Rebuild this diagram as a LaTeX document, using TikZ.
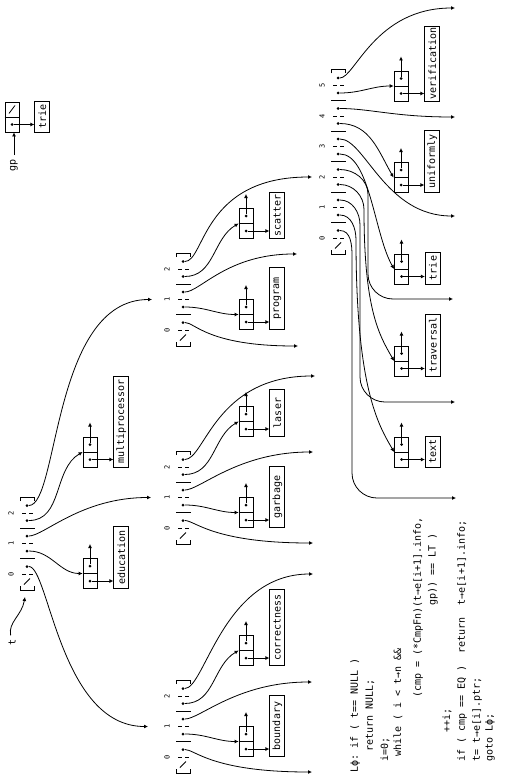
\documentclass[tikz,border=0pt]{standalone}
\usepackage{fontspec}
\setmonofont{DejaVu Sans Mono}
\usetikzlibrary{arrows.meta}

\begin{document}
\begin{tikzpicture}[x=1pt, y=-1pt, line width=0.8pt,
    every node/.style={font=\ttfamily\fontsize{10}{12}\selectfont},
    dot/.style={circle, fill, inner sep=0pt, minimum size=3pt},
    idx/.style={rotate=90, inner sep=0pt, font=\ttfamily\fontsize{7}{8}\selectfont},
    rec/.style={draw, minimum width=14pt, minimum height=30pt, inner sep=0pt},
    word/.style={draw, rotate=90, anchor=north west, inner sep=1pt,
                 minimum height=15pt, minimum width=#1},
    code/.style={rotate=90, anchor=west, inner sep=0pt},
    bar/.style={line width=1.2pt},
    ptr/.style={-{Latex[length=4pt,width=4pt]}}]
\useasboundingbox (0,0) rectangle (513,781);

% arrays: name/column/entry 0/entries
\foreach \nm/\x/\y/\n in {R/27/574/3, A/183/757/3, B/183/528/3, C/183/330/3, D/338/238/6} {
  \pgfmathtruncatemacro\last{\n-1}
  \pgfmathsetmacro\ytop{\y-30.5*\last-16}
  \draw (\x-7,\y+12) -- (\x-7,\y+16) -- (\x+7,\y+16) -- (\x+7,\y+12);
  \draw (\x-7,\ytop+4) -- (\x-7,\ytop) -- (\x+7,\ytop) -- (\x+7,\ytop+4);
  \foreach \k in {0,...,\last} {
    \pgfmathsetmacro\yk{\y-30.5*\k}
    \node[idx] (\nm-l\k) at (\x-16,\yk) {\k};
    \draw[dash pattern=on 4pt off 3pt] (\x-5,\yk) -- (\x+6,\yk);
    \node[dot] (\nm-p\k) at (\x,\yk-7.5) {};
    \ifnum\k=0
      \draw (\x-3,\yk+10.5) -- (\x+3,\yk+4.5);
    \else
      \node[dot] (\nm-i\k) at (\x,\yk+7.5) {};
      \draw[bar] (\x-7,\yk+15.25) -- (\x+8,\yk+15.25);
    \fi
  }
}

% records: name/x/y/word/length
\foreach \nm/\x/\y/\txt/\len in {edu/90/573.5/education/62, multi/90/452/multiprocessor/91,
    garb/246/512.5/garbage/61, laser/246/421.5/laser/47, prog/246/314.5/program/62,
    scat/246/223.5/scatter/46, bnd/246/741.5/boundary/61, corr/246/650.5/correctness/76,
    verif/401/86/verification/75, unif/401/177.5/uniformly/62, trie/401.5/269/trie/32,
    trav/401.5/361/traversal/62, txt/401.5/452/text/31} {
  \node[rec] (\nm) at (\x,\y) {};
  \draw (\nm.west) -- (\nm.east);
  \node[dot] (\nm-n) at ([yshift=7.5pt]\nm.center) {};
  \node[dot] (\nm-i) at ([yshift=-7.5pt]\nm.center) {};
  \node[word=\len] (\nm-w) at ([xshift=16pt]\nm.south east) {\txt};
  \draw[ptr] (\nm-n) -- ++(0,-22);
  \draw[ptr] (\nm-i) -- (\nm-i -| \nm-w.north);
}

% gp
\node[rec] (gprec) at (12,117) {};
\draw (gprec.west) -- (gprec.east);
\draw (9,113.5) -- (15,105.5);
\node[dot] (gprec-i) at ([yshift=-7.5pt]gprec.center) {};
\node[word=31] (gprec-w) at ([xshift=15pt]gprec.south east) {trie};
\draw[ptr] (gprec-i) -- (gprec-i -| gprec-w.north);
\node[rotate=90] (gp) at (14,165) {gp};
\draw[ptr] (gp) -- (gp |- gprec.south);

% t
\node[rotate=90] (t) at (12,642) {t};
\coordinate (R-b) at (25,597);
\draw[ptr] (t) to[out=80,in=-100] (R-b);

% child arrays and loose ends
\coordinate (A-in) at (148,726.5);
\coordinate (B-in) at (151,497.5);
\coordinate (C-in) at (152,299.5);
\coordinate (D-in) at (312,177);
\coordinate (A-x0) at (312,772);
\coordinate (A-x1) at (312,682);
\coordinate (A-x2) at (313,574);
\coordinate (B-x0) at (313,543);
\coordinate (B-x1) at (313,452);
\coordinate (B-x2) at (315,376);
\coordinate (C-x0) at (298,346);
\coordinate (C-x1) at (297,254);
\coordinate (D-x0) at (456,498);
\coordinate (D-x1) at (455,402);
\coordinate (D-x2) at (453,299);
\coordinate (D-x3) at (455,216);
\coordinate (D-x4) at (455,117);
\coordinate (D-x5) at (455,8);

% root
\draw[ptr] (R-p0) to[out=0,in=180,out distance=20,in distance=88] (A-in);
\draw[ptr] (R-i1) to[out=0,in=180] (edu.west);
\draw[ptr] (R-p1) to[out=0,in=180,out distance=15,in distance=70] (B-in);
\draw[ptr] (R-i2) to[out=0,in=210] (multi.west);
\draw[ptr] (R-p2) to[out=0,in=180,out distance=30,in distance=100] (C-in);

% A
\draw[ptr] (A-p0) to[out=0,in=180,out distance=10,in distance=100] (A-x0);
\draw[ptr] (A-i1) to[out=0,in=180] (bnd.west);
\draw[ptr] (A-p1) to[out=0,in=180,out distance=15,in distance=75] (A-x1);
\draw[ptr] (A-i2) to[out=0,in=210] (corr.west);
\draw[ptr] (A-p2) to[out=0,in=180,out distance=20,in distance=90] (A-x2);

% B
\draw[ptr] (B-p0) to[out=0,in=180,out distance=10,in distance=100] (B-x0);
\draw[ptr] (B-i1) to[out=0,in=180] (garb.west);
\draw[ptr] (B-p1) to[out=0,in=180,out distance=15,in distance=75] (B-x1);
\draw[ptr] (B-i2) to[out=0,in=210] (laser.west);
\draw[ptr] (B-p2) to[out=0,in=180,out distance=20,in distance=100] (B-x2);

% C
\draw[ptr] (C-p0) to[out=0,in=180,out distance=10,in distance=90] (C-x0);
\draw[ptr] (C-i1) to[out=0,in=180] (prog.west);
\draw[ptr] (C-p1) to[out=0,in=180,out distance=15,in distance=70] (C-x1);
\draw[ptr] (C-i2) to[out=0,in=210] (scat.west);
\draw[ptr] (C-p2) to[out=0,in=180,out distance=20,in distance=110] (D-in);

% D
\draw[ptr] (D-p5) to[out=0,in=180,out distance=15,in distance=80] (D-x5);
\draw[ptr] (D-i5) to[out=0,in=180] (verif.west);
\draw[ptr] (D-p4) to[out=0,in=180,out distance=30,in distance=60] (D-x4);
\draw[ptr] (D-i4) to[out=0,in=120,out distance=30,in distance=30] (unif.west);
\draw[ptr] (D-p3) to[out=0,in=180,out distance=25,in distance=70] (D-x3);
\draw[ptr] (D-i3) to[out=0,in=120,out distance=30,in distance=40] (trie.west);
\draw[ptr] (D-p2) to[out=0,in=90] ++(30,25) [rounded corners=25pt] |- (D-x2);
\draw[ptr] (D-i2) to[out=0,in=90] ++(26,25) to[out=-90,in=120,out distance=100,in distance=30] (trav.west);
\draw[ptr] (D-p1) to[out=0,in=90] ++(22,25) [rounded corners=25pt] |- (D-x1);
\draw[ptr] (D-i1) to[out=0,in=90] ++(18,25) to[out=-90,in=120,out distance=150,in distance=30] (txt.west);
\draw[ptr] (D-p0) to[out=0,in=90] ++(14,25) [rounded corners=25pt] |- (D-x0);

% code
\node[code] (l1) at (355,773) {Lϕ: if ( t== NULL )};
\node[code] (l2) at (370,752) {return NULL;};
\node[code] (l3) at (385,762) {i=0;};
\node[code] (l4) at (398,757) {while ( i < t→n \&\&};
\node[code] (l5) at (418,698) {(cmp = (*CmpFn)(t→e[i+1].info,};
\node[code] (l6) at (433,606) {gp)) == LT )};
\node[code] (l7) at (447,733) {++i;};
\node[code] (l8) at (462,762) {if ( cmp == EQ )~ return~ t→e[i+1].info;};
\node[code] (l9) at (477,762) {t= t→e[i].ptr;};
\node[code] (l10) at (490,762) {goto Lϕ;};
\end{tikzpicture}
\end{document}
